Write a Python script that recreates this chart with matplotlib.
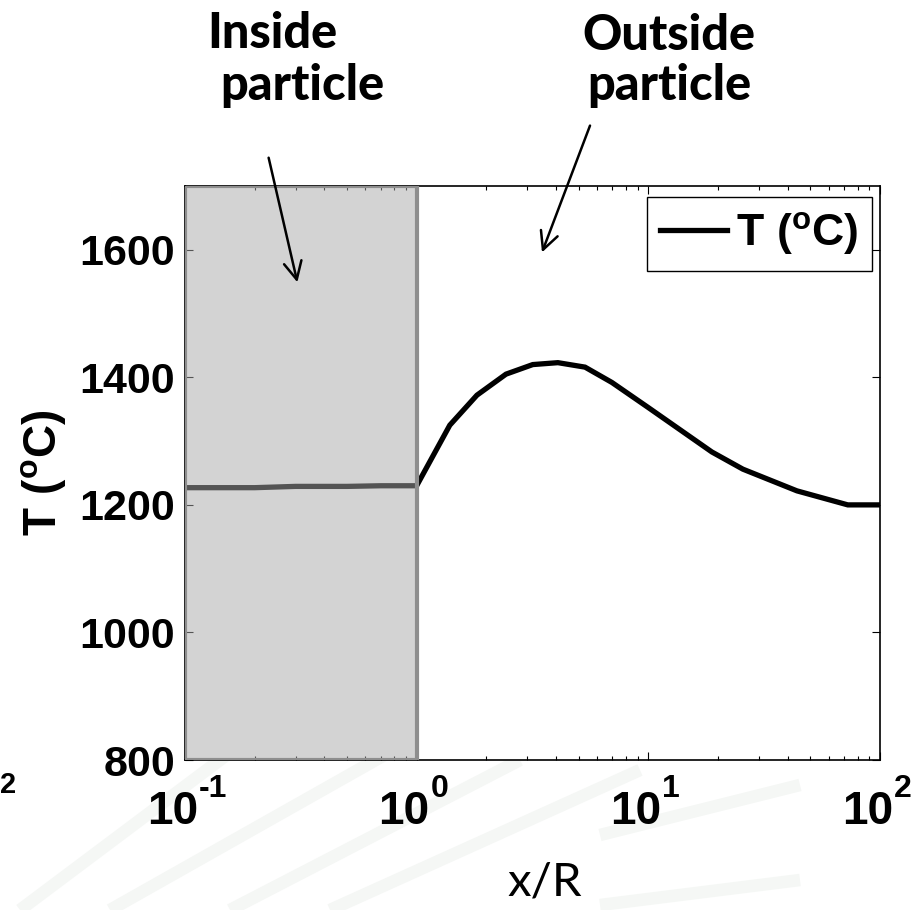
import matplotlib
matplotlib.use("Agg")
import matplotlib.pyplot as plt
from matplotlib.lines import Line2D
from matplotlib.patches import FancyArrowPatch

plt.rcParams["font.family"] = ["Liberation Sans", "DejaVu Sans"]
plt.rcParams["mathtext.fontset"] = "custom"
plt.rcParams["mathtext.rm"] = "Liberation Sans:bold"
plt.rcParams["mathtext.bf"] = "Liberation Sans:bold"
plt.rcParams["mathtext.it"] = "Liberation Sans:bold"

# temperature profile
x_inside = [0.1, 0.2, 0.3, 0.5, 0.7, 1.0]
t_inside = [1227, 1227, 1229, 1229, 1230, 1230]
x_outside = [1.0, 1.39, 1.82, 2.43, 3.17, 4.07, 5.33, 6.96, 9.96, 18.8, 25.6, 43.8, 72.6, 100]
t_outside = [1230, 1325, 1372, 1405, 1420, 1423, 1416, 1392, 1353, 1283, 1256, 1222, 1200, 1200]

y_ticks = [800, 1000, 1200, 1400, 1600]
x_ticks = [0.1, 1, 10, 100]
x_exponents = ["-1", "0", "1", "2"]

W, H = 917, 910


def px(x, y):
    return x / W, 1 - y / H


fig = plt.figure(figsize=(W / 100, H / 100), dpi=100)

# faint slide background swooshes
for (x0, y0), (x1, y1) in [((20, 910), (300, 700)), ((110, 910), (420, 735)),
                           ((230, 910), (520, 760)), ((330, 910), (640, 770)),
                           ((600, 905), (800, 880)), ((600, 835), (800, 785))]:
    fig.add_artist(Line2D([x0 / W, x1 / W], [1 - y0 / H, 1 - y1 / H],
                          color="#f5f7f5", lw=9, zorder=0, solid_capstyle="butt"))

ax = fig.add_axes([185 / W, 1 - 760 / H, 695 / W, 574 / H])
ax.set_xscale("log")
ax.set_xlim(0.1, 100)
ax.set_ylim(800, 1700)

ax.plot(x_inside + x_outside[1:], t_inside + t_outside[1:], color="black", lw=3.8,
        solid_joinstyle="miter", label=r"$\mathbf{T\ (^{o}C)}$", zorder=2)
ax.axvspan(0.1, 1.0, facecolor=(0.66, 0.66, 0.66, 0.5), edgecolor="#8e8e8e", lw=3, zorder=3)

ax.set_xticks(x_ticks)
ax.set_xticklabels([])
ax.set_yticks(y_ticks)
ax.tick_params(which="both", direction="in", top=True, right=True, labelsize=31, width=0.8)
ax.tick_params(which="major", length=6, pad=7)
ax.tick_params(which="minor", length=3)
for lab in ax.get_yticklabels():
    lab.set_fontweight("bold")
for sp in ax.spines.values():
    sp.set_linewidth(1.2)

# MATLAB-style "10^n" labels with a plain hyphen in the exponent
for xt, ex in zip(x_ticks, x_exponents):
    ax.annotate("10", (xt, 0), xycoords=("data", "axes fraction"),
                xytext=(13, -64), textcoords="offset pixels",
                ha="right", va="baseline", fontsize=33, fontweight="bold")
    ax.annotate(ex, (xt, 0), xycoords=("data", "axes fraction"),
                xytext=(14, -37), textcoords="offset pixels",
                ha="left", va="baseline", fontsize=23, fontweight="bold")

ax.set_ylabel(r"$\mathbf{T\ (^{o}C)}$", fontsize=33, labelpad=8)

leg = ax.legend(loc="upper right", bbox_to_anchor=(0.988, 0.981), borderaxespad=0,
                fontsize=32, handlelength=1.5, handletextpad=0.2, borderpad=0.3,
                fancybox=False, framealpha=1)
leg.get_frame().set_edgecolor("black")
leg.get_frame().set_linewidth(1.0)

# annotation texts (Gill Sans-like slide font)
ann = dict(family=["Lato", "DejaVu Sans"], fontweight="black", fontsize=35, va="baseline")
fig.text(*px(207, 48), "Inside", ha="left", **ann)
fig.text(*px(220, 100), "particle", ha="left", **ann)
fig.text(*px(669, 50), "Outside", ha="center", **ann)
fig.text(*px(669, 100), "particle", ha="center", **ann)

arrow = dict(arrowstyle="->", color="black", lw=1.8, mutation_scale=32)
fig.add_artist(FancyArrowPatch(px(268, 155), px(298, 285), transform=fig.transFigure, **arrow))
fig.add_artist(FancyArrowPatch(px(591, 123), px(541, 255), transform=fig.transFigure, **arrow))

fig.text(*px(545, 895), "x/R", ha="center", va="baseline",
         family=["Lato", "DejaVu Sans"], fontsize=34)
fig.text(*px(0, 793), "2", ha="left", va="baseline", fontweight="bold", fontsize=21)

fig.savefig("out.png", dpi=100)
